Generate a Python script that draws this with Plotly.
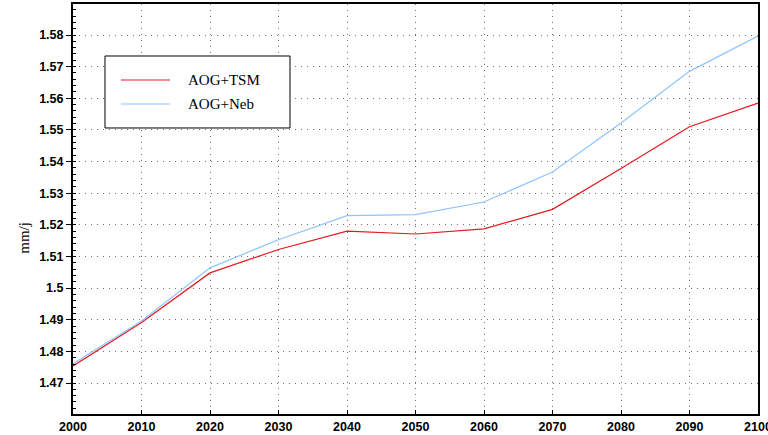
import plotly.graph_objects as go

# 데이터
years = [2000, 2010, 2020, 2030, 2040, 2050, 2060, 2070, 2080, 2090, 2100]
aog_tsm = [1.4754, 1.4891, 1.5048, 1.5122, 1.5180, 1.5171, 1.5187, 1.5249, 1.5378, 1.5510, 1.5585]
aog_neb = [1.4761, 1.4896, 1.5064, 1.5153, 1.5229, 1.5232, 1.5272, 1.5367, 1.5522, 1.5685, 1.5797]
y_ticks = [1.47, 1.48, 1.49, 1.5, 1.51, 1.52, 1.53, 1.54, 1.55, 1.56, 1.57, 1.58]
y_labels = ['1.47', '1.48', '1.49', '1.5', '1.51', '1.52', '1.53', '1.54', '1.55', '1.56', '1.57', '1.58']
series_names = ['AOG+TSM', 'AOG+Neb']
series_colors = ['#e3191c', '#8ec4ff']

fig = go.Figure()
for name, vals, color in zip(series_names, [aog_tsm, aog_neb], series_colors):
    fig.add_trace(go.Scatter(
        x=years, y=vals, mode='lines', name=name,
        line=dict(color=color, width=1.2)
        ))

fig.update_layout(
    width=768,
    height=435,
    margin=dict(l=73, r=10, t=4, b=21, autoexpand=False),
    plot_bgcolor='white',
    paper_bgcolor='white',
    font=dict(family='Liberation Sans', color='black'),
    showlegend=False,
    )

# 범례 (수동으로 그림)
fig.add_shape(
    type='rect', xref='paper', yref='paper',
    x0=0.0467, x1=0.3168, y0=0.6976, y1=0.8732,
    fillcolor='white', line=dict(color='black', width=1), layer='above'
    )
for i, (name, color) in enumerate(zip(series_names, series_colors)):
    ly = 0.8146 - i * 0.0585
    fig.add_shape(
        type='line', xref='paper', yref='paper',
        x0=0.0701, x1=0.1416, y0=ly, y1=ly,
        line=dict(color=color, width=1.2), layer='above'
        )
    fig.add_annotation(
        xref='paper', yref='paper', x=0.165, y=ly,
        xanchor='left', yanchor='middle', showarrow=False,
        text=name, font=dict(family='Liberation Serif', size=15, color='black')
        )

# y축 제목
fig.add_annotation(
    xref='paper', yref='paper', x=-0.0715, y=0.43,
    xanchor='center', yanchor='middle', showarrow=False, textangle=-90,
    text='mm/j', font=dict(family='Liberation Serif', size=15, color='black')
    )

fig.update_xaxes(
    range=[2000, 2100],
    tickmode='linear', tick0=2000, dtick=10,
    tickfont=dict(family='Liberation Sans', size=12.5, weight='bold'),
    ticklabeloverflow='allow',
    showgrid=True, gridcolor='#707070', griddash='1px,5px', gridwidth=1,
    showline=True, linecolor='black', linewidth=2, mirror=True,
    ticks='inside', ticklen=4, tickcolor='black',
    zeroline=False,
    )
fig.update_yaxes(
    range=[1.4602, 1.5898],
    tickmode='array', tickvals=y_ticks, ticktext=y_labels,
    tickfont=dict(family='Liberation Sans', size=12.5, weight='bold'),
    showgrid=True, gridcolor='#707070', griddash='1px,5px', gridwidth=1,
    showline=True, linecolor='black', linewidth=2, mirror=True,
    ticks='outside', ticklen=5, tickcolor='black',
    minor=dict(ticks='inside', ticklen=3, dtick=0.002, tickcolor='black', showgrid=False),
    zeroline=False,
    )

# 페이지 기본 여백 제거, 모드바 숨김
fig.write_html(
    "out.html",
    config={'displayModeBar': False},
    post_script="document.body.style.margin='0px';"
    )
